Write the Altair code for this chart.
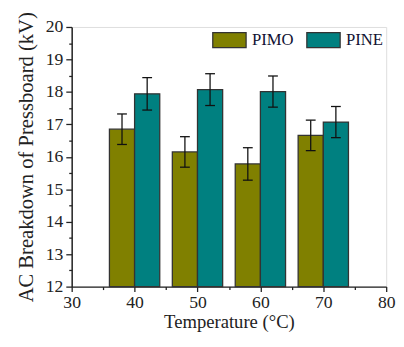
import altair as alt
import pandas as pd

temperatures = [40, 50, 60, 70]
series_names = ["PIMO", "PINE"]
pimo_values = [16.85, 16.15, 15.78, 16.66]
pimo_errors = [0.47, 0.47, 0.50, 0.47]
pine_values = [17.94, 18.07, 18.01, 17.07]
pine_errors = [0.50, 0.49, 0.48, 0.48]
bar_colors = ["#808000", "#008080"]

rows = []
for t, v, e in zip(temperatures, pimo_values, pimo_errors):
    rows.append({"series": "PIMO", "T": t, "value": v, "err": e})
for t, v, e in zip(temperatures, pine_values, pine_errors):
    rows.append({"series": "PINE", "T": t, "value": v, "err": e})
df = pd.DataFrame(rows)

FONT = "Liberation Serif"
TXT = "#222222"

x_axis = alt.Axis(
    values=list(range(30, 81, 5)),
    labelExpr="datum.value % 10 === 0 ? format(datum.value, 'd') : ''",
    tickSize={"condition": {"test": "datum.value % 10 === 0", "value": 5}, "value": 3},
    grid=False, title="Temperature (°C)",
    labelFont=FONT, labelFontSize=18, labelColor=TXT, labelPadding=2,
    labelOverlap=False,
    titleFont=FONT, titleFontSize=19, titleFontWeight="normal", titleColor=TXT,
    titlePadding=2,
    domainColor=TXT, domainWidth=1.5, tickColor=TXT, tickWidth=1.3,
    labelFlush=False,
)
y_axis = alt.Axis(
    values=[12 + 0.5 * i for i in range(17)],
    labelExpr="datum.value % 1 === 0 ? format(datum.value, 'd') : ''",
    tickSize={"condition": {"test": "datum.value % 1 === 0", "value": 6}, "value": 3},
    grid=False, title="AC Breakdown of Pressboard (kV)",
    labelFont=FONT, labelFontSize=18, labelColor=TXT, labelPadding=3,
    labelOverlap=False,
    titleFont=FONT, titleFontSize=21, titleFontWeight="normal", titleColor=TXT,
    titlePadding=9,
    domainColor=TXT, domainWidth=1.5, tickColor=TXT, tickWidth=1.3,
    labelFlush=False,
)

xs = alt.Scale(domain=[30, 80], nice=False)
ys = alt.Scale(domain=[12, 20], nice=False, zero=False)

base = alt.Chart(df).transform_calculate(
    x0="datum.series === 'PIMO' ? datum.T - 4 : datum.T",
    x1="datum.series === 'PIMO' ? datum.T : datum.T + 4",
    xc="datum.series === 'PIMO' ? datum.T - 2 : datum.T + 2",
    lo="datum.value - datum.err",
    hi="datum.value + datum.err",
)

bars = base.mark_rect(stroke="#333333", strokeWidth=1.3).encode(
    x=alt.X("x0:Q", scale=xs, axis=x_axis),
    x2="x1:Q",
    y=alt.Y("value:Q", scale=ys, axis=y_axis),
    y2=alt.datum(12),
    color=alt.Color(
        "series:N",
        scale=alt.Scale(domain=series_names, range=bar_colors),
        legend=alt.Legend(
            title=None, orient="none", legendX=143, legendY=-5,
            direction="horizontal",
            symbolType="M-1,-0.45H1V0.45H-1Z", symbolSize=1156,
            symbolStrokeColor="#333333", symbolStrokeWidth=1.3, symbolOpacity=1,
            labelFont=FONT, labelFontSize=17, labelColor="#111133",
            labelOffset=5, columnPadding=10, padding=0,
        ),
    ),
)

rules = base.mark_rule(color="#111111", strokeWidth=1.3).encode(
    x=alt.X("xc:Q", scale=xs, axis=x_axis),
    y=alt.Y("lo:Q", scale=ys, axis=y_axis),
    y2="hi:Q",
)
caps_hi = base.mark_tick(orient="horizontal", size=10, thickness=1.3, color="#111111", opacity=1).encode(
    x=alt.X("xc:Q", scale=xs, axis=x_axis),
    y=alt.Y("hi:Q", scale=ys, axis=y_axis),
)
caps_lo = base.mark_tick(orient="horizontal", size=10, thickness=1.3, color="#111111", opacity=1).encode(
    x=alt.X("xc:Q", scale=xs, axis=x_axis),
    y=alt.Y("lo:Q", scale=ys, axis=y_axis),
)

chart = alt.layer(bars, rules, caps_hi, caps_lo).properties(
    width=321, height=265,
    autosize=alt.AutoSizeParams(type="none"),
    padding={"left": 65, "top": 16, "right": 10, "bottom": 46},
).configure_view(stroke=None, strokeWidth=0).configure(background="white")

chart.save("out.html", embed_options={"renderer": "svg", "actions": False})
